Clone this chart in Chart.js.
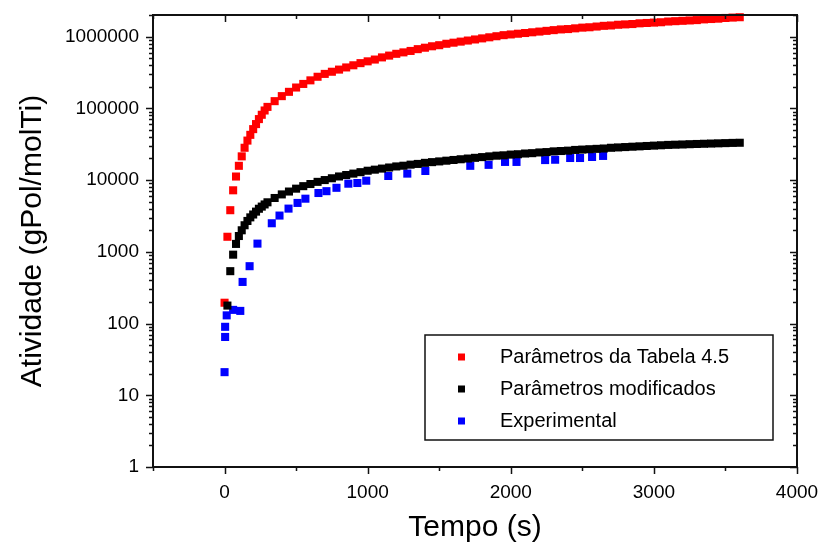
<!DOCTYPE html>
<html lang="pt">
<head>
  <meta charset="UTF-8">
  <title>Atividade x Tempo</title>
  <script src="https://cdn.jsdelivr.net/npm/chart.js"></script>
  <style>
    html, body { margin: 0; padding: 0; background: #fff; }
    canvas { display: block; }
  </style>
</head>
<body>
  <canvas id="grafico" width="822" height="550"></canvas>
  <script>
    // Tempos (s) das curvas do modelo
    const tempoModelo = [
      0, 20, 40, 60, 80, 100, 120, 140, 160, 180, 200, 220, 240, 260, 280, 300,
      350, 400, 450, 500, 550, 600, 650, 700, 750, 800, 850, 900, 950, 1000,
      1050, 1100, 1150, 1200, 1250, 1300, 1350, 1400, 1450, 1500, 1550, 1600, 1650, 1700, 1750, 1800, 1850, 1900, 1950, 2000,
      2050, 2100, 2150, 2200, 2250, 2300, 2350, 2400, 2450, 2500, 2550, 2600, 2650, 2700, 2750, 2800, 2850, 2900, 2950, 3000,
      3050, 3100, 3150, 3200, 3250, 3300, 3350, 3400, 3450, 3500, 3550, 3600
    ];
    // Parâmetros da Tabela 4.5 (vermelho)
    const atividadeTabela = [
      195, 1620, 3800, 7200, 11200, 15800, 21400, 28200, 35500, 42700, 51300, 60300, 70800, 81300, 93300, 104700,
      125900, 147900, 169800, 195000, 218800, 245500, 275400, 302000, 323600, 346700, 371500, 398100, 426600, 451900,
      478600, 512900, 543300, 575400, 602600, 631000, 668300, 699800, 732800, 758600, 794300, 822400, 851100, 881000, 912000, 944100, 977200, 1011600, 1047100, 1071500,
      1096500, 1122000, 1148200, 1174900, 1202300, 1230300, 1258900, 1273500, 1303200, 1333500, 1349000, 1380400, 1412500, 1428900, 1462200, 1479100, 1496200, 1531100, 1548800, 1566800,
      1584900, 1621800, 1640600, 1659600, 1678800, 1698200, 1737800, 1757900, 1778300, 1819700, 1840800, 1862100
    ];
    // Parâmetros modificados (preto)
    const atividadeModificada = [
      null, 178, 537, 912, 1288, 1660, 1995, 2344, 2692, 3020, 3311, 3631, 3981, 4266, 4571, 4898,
      5623, 6310, 6918, 7586, 8222, 8810, 9441, 10000, 10593, 11220, 11749, 12303, 12882, 13490,
      13964, 14454, 14962, 15488, 15849, 16406, 16788, 17378, 17783, 18197, 18621, 19055, 19498, 19953, 20417, 20893, 21380, 21878, 22131, 22646,
      22909, 23442, 23714, 24266, 24547, 25119, 25410, 25704, 26303, 26607, 26915, 27227, 27542, 28184, 28510, 28840, 29174, 29512, 29854, 30200,
      30549, 30903, 31117, 31333, 31623, 31842, 32063, 32285, 32509, 32734, 32961, 33113
    ];
    // Experimental (azul)
    const tempoExp = [0, 4, 4, 15, 60, 110, 126, 175, 230, 330, 384, 447, 510, 565, 656, 712, 782, 865, 928, 990,
      1144, 1277, 1403, 1717, 1845, 1960, 2040, 2240, 2310, 2415, 2484, 2568, 2645];
    const atividadeExp = [21, 65, 90, 130, 155, 150, 380, 630, 1300, 2500, 3200, 4000, 4800, 5500, 6600, 7000, 7800, 8900, 9100, 9800,
      11400, 12300, 13400, 15800, 16300, 17900, 17900, 19000, 19200, 20300, 20300, 21000, 21700];

    const rotulosX = [0, 1000, 2000, 3000, 4000];
    const rotulosY = [1, 10, 100, 1000, 10000, 100000, 1000000];

    const FONTE = '"Liberation Sans", Arial, sans-serif';

    function pares(xs, ys) {
      return xs.map((x, i) => ({ x, y: ys[i] })).filter(p => p.y != null);
    }

    // sem folga extra para os rótulos nas pontas: a área do gráfico fica onde o layout manda
    function semFolga(s) {
      s.paddingTop = 0; s.paddingBottom = 0; s.paddingLeft = 0; s.paddingRight = 0;
    }

    // Moldura estilo Origin: eixos em caixa, ticks para fora (esq/baixo) e para dentro (dir/topo)
    const moldura = {
      id: 'moldura',
      afterDatasetsDraw(chart) {
        const { ctx, chartArea: a, scales } = chart;
        const sx = scales.x, sy = scales.y;
        ctx.save();
        ctx.strokeStyle = '#111';
        ctx.lineWidth = 2;
        ctx.strokeRect(a.left, a.top, a.right - a.left, a.bottom - a.top);
        ctx.lineWidth = 1.5;
        ctx.beginPath();
        for (let v = -500; v <= 4000; v += 500) {
          const px = Math.round(sx.getPixelForValue(v)) + 0.5;
          const len = v % 1000 === 0 ? 7 : 4;
          ctx.moveTo(px, a.bottom); ctx.lineTo(px, a.bottom + len);
          ctx.moveTo(px, a.top); ctx.lineTo(px, a.top + len);
        }
        for (let k = 0; k <= 6; k++) {
          for (let m = 1; m <= 9; m++) {
            const v = m * Math.pow(10, k);
            if (v > sy.max) break;
            const py = Math.round(sy.getPixelForValue(v)) + 0.5;
            const len = m === 1 ? 7 : 4;
            ctx.moveTo(a.left, py); ctx.lineTo(a.left - len, py);
            ctx.moveTo(a.right, py); ctx.lineTo(a.right - len, py);
          }
        }
        ctx.stroke();
        ctx.restore();
      }
    };

    // Legenda dentro da área do gráfico, com caixa
    const legendaCaixa = {
      id: 'legendaCaixa',
      afterDraw(chart) {
        const ctx = chart.ctx;
        const box = { x: 425, y: 335, w: 348, h: 105 };
        ctx.save();
        ctx.fillStyle = '#fff';
        ctx.fillRect(box.x, box.y, box.w, box.h);
        ctx.strokeStyle = '#111';
        ctx.lineWidth = 1.5;
        ctx.strokeRect(box.x, box.y, box.w, box.h);
        ctx.font = '20px ' + FONTE;
        ctx.textBaseline = 'middle';
        chart.data.datasets.forEach((ds, i) => {
          const yc = box.y + 22 + i * 32;
          ctx.fillStyle = ds.backgroundColor;
          ctx.fillRect(box.x + 33, yc - 3.5, 7, 7);
          ctx.fillStyle = '#000';
          ctx.fillText(ds.label, box.x + 75, yc);
        });
        ctx.restore();
      }
    };

    const comum = { showLine: false, pointStyle: 'rect', pointRadius: 5.7, pointBorderWidth: 0, pointHoverRadius: 5.7, clip: false };

    new Chart(document.getElementById('grafico'), {
      type: 'scatter',
      data: {
        datasets: [
          Object.assign({ label: 'Parâmetros da Tabela 4.5', data: pares(tempoModelo, atividadeTabela),
            backgroundColor: '#ff0000', borderColor: '#ff0000', order: 2 }, comum),
          Object.assign({ label: 'Parâmetros modificados', data: pares(tempoModelo, atividadeModificada),
            backgroundColor: '#000000', borderColor: '#000000', order: 1 }, comum),
          Object.assign({ label: 'Experimental', data: pares(tempoExp, atividadeExp),
            backgroundColor: '#0000ff', borderColor: '#0000ff', order: 3 }, comum)
        ]
      },
      options: {
        responsive: false,
        animation: false,
        devicePixelRatio: 1,
        layout: { padding: { top: 15, right: 25, left: 0, bottom: 0 } },
        plugins: { legend: { display: false }, tooltip: { enabled: false } },
        scales: {
          x: {
            type: 'linear', min: -500, max: 4000,
            grid: { display: false, drawTicks: false }, border: { display: false },
            afterBuildTicks: s => { s.ticks = rotulosX.map(v => ({ value: v })); },
            afterFit: s => { s.height = 83; semFolga(s); },
            ticks: { autoSkip: false, maxRotation: 0, padding: 14, color: '#000',
              font: { family: FONTE, size: 19 }, callback: v => String(v) },
            title: { display: true, text: 'Tempo (s)', color: '#000',
              font: { family: FONTE, size: 30 }, padding: { top: 0, bottom: 4 } }
          },
          y: {
            type: 'logarithmic', min: 1, max: 2000000,
            grid: { display: false, drawTicks: false }, border: { display: false },
            afterBuildTicks: s => { s.ticks = rotulosY.map(v => ({ value: v })); },
            afterFit: s => { s.width = 153; semFolga(s); },
            ticks: { autoSkip: false, padding: 14, color: '#000',
              font: { family: FONTE, size: 19 }, callback: v => String(v) },
            title: { display: true, text: 'Atividade (gPol/molTi)', color: '#000',
              font: { family: FONTE, size: 30 }, padding: { top: 15, bottom: 0 } }
          }
        }
      },
      plugins: [moldura, legendaCaixa]
    });
  </script>
</body>
</html>
